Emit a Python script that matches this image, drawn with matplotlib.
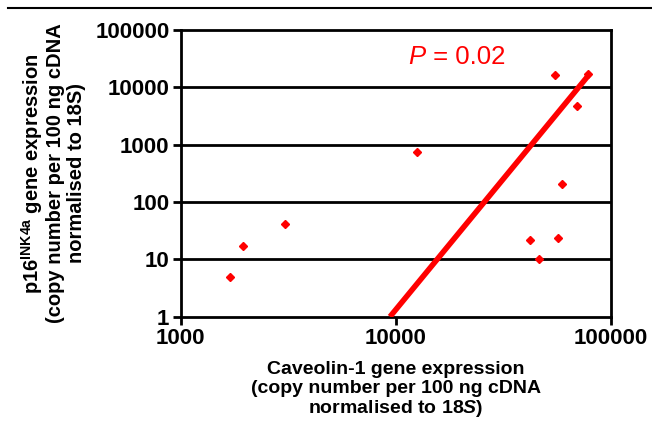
import matplotlib
matplotlib.use("Agg")
import matplotlib.pyplot as plt
from matplotlib.lines import Line2D

# caveolin-1 (x) vs p16INK4a (y), copy numbers
cav1 = [1700, 1940, 3070, 12500, 54700, 78200, 69200, 59100, 42000, 56600, 46200]
p16 = [4.9, 17, 42, 745, 16600, 16900, 4780, 203, 22, 23.3, 10.1]

# end points of the fitted line
fit_x = [9400, 79500]
fit_y = [1, 17000]

x_ticks = [1000, 10000, 100000]
y_ticks = [1, 10, 100, 1000, 10000, 100000]
p_text = "P"
p_value = " = 0.02"

plt.rcParams['font.family'] = ['Liberation Sans', 'DejaVu Sans']
plt.rcParams['mathtext.fontset'] = 'custom'
plt.rcParams['mathtext.rm'] = 'Liberation Sans:bold'
plt.rcParams['mathtext.it'] = 'Liberation Sans:bold:italic'
plt.rcParams['mathtext.default'] = 'rm'


def main():
    fig = plt.figure(figsize=(6.52, 4.25), dpi=100)
    ax = fig.add_axes([0.277, 0.2548, 0.66, 0.6746])

    ax.set_xscale('log')
    ax.set_yscale('log')
    ax.set_xlim(1000, 100000)
    ax.set_ylim(1, 100000)

    # horizontal grid at each decade
    for yv in y_ticks[1:-1]:
        ax.axhline(yv, color='black', lw=2, zorder=1)

    ax.plot(fit_x, fit_y, color='red', lw=4, solid_capstyle='butt', zorder=3)
    ax.plot(cav1, p16, linestyle='none', marker='D', ms=4, color='red', zorder=4)

    ax.set_xticks(x_ticks)
    ax.set_xticklabels([str(v) for v in x_ticks])
    ax.set_yticks(y_ticks)
    ax.set_yticklabels([str(v) for v in y_ticks])
    ax.minorticks_off()
    ax.tick_params(axis='both', which='major', direction='out', length=6, width=2,
                   labelsize=16, pad=2)
    for lab in ax.get_xticklabels() + ax.get_yticklabels():
        lab.set_fontweight('bold')
    for sp in ax.spines.values():
        sp.set_linewidth(2)

    t = ax.text(0.530, 0.905, p_text, transform=ax.transAxes, color='red',
                fontsize=18.5, style='italic', ha='left', va='center')
    ax.annotate(p_value, xy=(1, 0), xycoords=t, color='red', fontsize=18.5,
                ha='left', va='bottom')

    ax.set_xlabel("Caveolin-1 gene expression\n(copy number per 100 ng cDNA\nnormalised to $\\it{18S}$)",
                  fontsize=14, fontweight='bold', linespacing=1.1, labelpad=9)
    ax.set_ylabel("p16$^{\\mathrm{INK4a}}$ gene expression\n(copy number per 100 ng cDNA\nnormalised to 18S)",
                  fontsize=14.5, fontweight='bold', linespacing=1.1, labelpad=7)

    # rule line across the top of the figure
    fig.add_artist(Line2D([0.012, 1.0], [0.981, 0.981], color='black', lw=1.5))

    plt.savefig('out.png', dpi=100)


if __name__ == "__main__":
    main()
